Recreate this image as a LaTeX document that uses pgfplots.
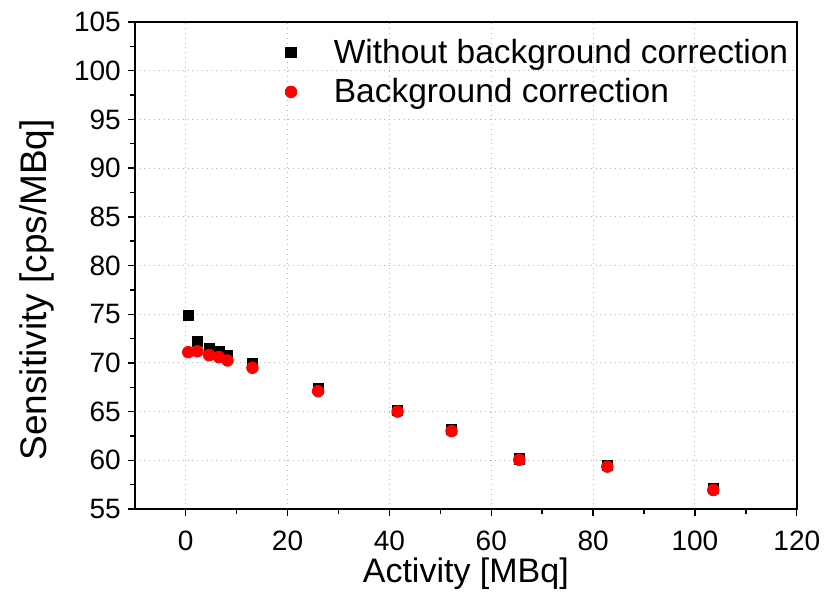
\documentclass[border=0pt]{standalone}
\usepackage{fontspec}
\setmainfont{Liberation Sans}
\usepackage{pgfplots}
\pgfplotsset{compat=1.18}
\begin{document}
\begin{tikzpicture}
\useasboundingbox (-67.4pt,-48.5pt) rectangle (351.1pt,254.5pt);
\begin{axis}[
  scale only axis,
  width=331pt, height=243.5pt,
  at={(0,0)}, anchor=south west,
  xmin=-10, xmax=120, ymin=55, ymax=105,
  xtick={0,20,...,120}, ytick={55,60,...,105},
  minor x tick num=1, minor y tick num=1,
  tick pos=left, tick align=outside,
  major tick length=3.5pt, minor tick length=2.5pt,
  every tick/.style={black, line width=0.7pt},
  axis line style={line width=0.8pt},
  grid=major,
  major grid style={gray!60, dotted, line width=0.5pt},
  /pgf/number format/assume math mode=true,
  ticklabel style={font=\fontsize{14pt}{16pt}\selectfont},
  xticklabel style={yshift=-4pt},
  xlabel={Activity [MBq]}, ylabel={Sensitivity [cps/MBq]},
  xlabel style={font=\fontsize{17pt}{20pt}\selectfont, at={(axis description cs:0.5,0)}, anchor=center, yshift=-32.5pt},
  ylabel style={font=\fontsize{18.5pt}{20pt}\selectfont, at={(axis description cs:-0.1477,0.45)}, anchor=center},
  legend style={at={(rel axis cs:0.2266,0.966)}, anchor=north west, draw=none, fill=none,
    inner sep=0pt, nodes={inner sep=0pt},
    font=\fontsize{16.75pt}{20pt}\selectfont, row sep=6pt},
  legend image code/.code={\draw[#1] plot coordinates {(0pt,0pt)}; \path (-2.6pt,0pt) (21.2pt,0pt);},
  legend cell align=left,
]
\addplot[only marks, mark=square*, mark size=2.6pt, color=black] coordinates {
(0.5,74.85) (2.3,72.2) (4.6,71.5) (6.5,71.15) (8.2,70.8) (13.1,69.9)
(26,67.4) (41.6,65.1) (52.2,63.15) (65.5,60.15) (82.8,59.5) (103.6,57.1)
};
\addlegendentry{Without background correction}
\addplot[only marks, mark=*, mark size=2.9pt, color=red, mark options={draw=red, fill=red}] coordinates {
(0.5,71.1) (2.3,71.2) (4.6,70.8) (6.5,70.6) (8.2,70.25) (13.1,69.5)
(26,67.1) (41.6,65.0) (52.2,63.0) (65.5,60.05) (82.8,59.35) (103.6,56.95)
};
\addlegendentry{Background correction}
\end{axis}
\end{tikzpicture}
\end{document}
